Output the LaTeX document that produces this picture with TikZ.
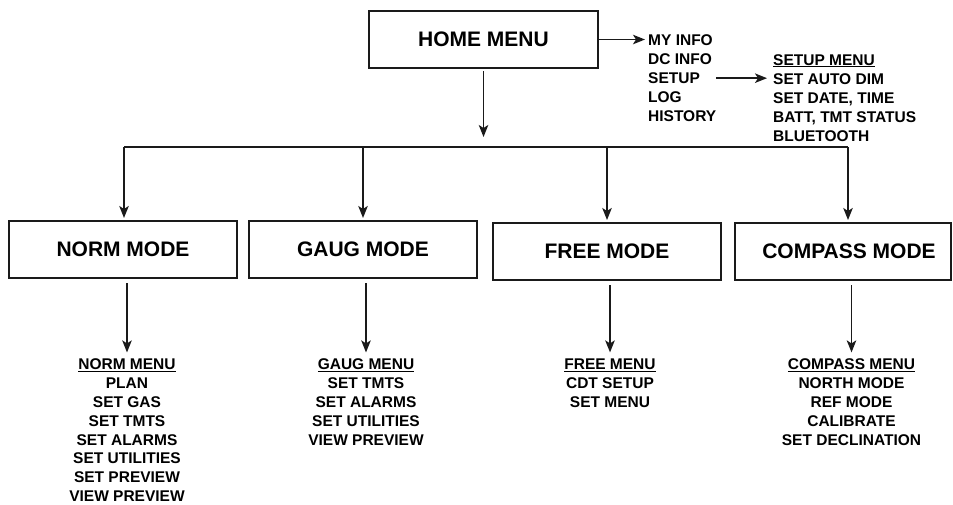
\documentclass[tikz,border=0pt]{standalone}
\usepackage{fontspec}
\setmainfont{Liberation Sans}
\usetikzlibrary{arrows.meta}
\definecolor{ink}{HTML}{1A1A1A}
\begin{document}
\begin{tikzpicture}[x=1pt,y=-1pt,
  modebox/.style={draw=ink, line width=2pt, minimum width=228pt, minimum height=57pt, inner sep=0pt, font=\fontsize{21}{25}\selectfont\bfseries},
  lbl/.style={inner sep=0pt, font=\fontsize{15.5}{18.9}\selectfont\bfseries},
  menu/.style={lbl, align=center, anchor=north},
  conn/.style={draw=ink, line width=1.5pt},
  arr/.style={conn, -{Stealth[length=12pt,width=9.5pt,inset=3pt]}}]
\useasboundingbox (0,0) rectangle (953,504);

% boxes
\node[modebox, minimum width=229pt] (home) at (483.5,39.5) {HOME MENU};
\node[modebox] (norm) at (123,249.5) {NORM MODE};
\node[modebox] (gaug) at (363,249.5) {GAUG MODE};
\node[modebox] (free) at (607,251.5) {FREE MODE};
\node[modebox, minimum width=216pt] (compass) at (843,251.5) {\hspace*{12pt}COMPASS MODE};

% home list
\node[lbl, anchor=base west] (myinfo)  at (648,45.7)  {MY INFO};
\node[lbl, anchor=base west] (dcinfo)  at (648,64.5)  {DC INFO};
\node[lbl, anchor=base west] (setup)   at (648,83.5)  {SETUP};
\node[lbl, anchor=base west] (log)     at (648,102.3) {LOG};
\node[lbl, anchor=base west] (history) at (648,121.1) {HISTORY};

% setup list
\node[lbl, anchor=base west] (setupmenu) at (773,65)  {\underline{SETUP MENU}};
\node[lbl, anchor=base west] (autodim)   at (773,84)  {SET AUTO DIM};
\node[lbl, anchor=base west] (datetime)  at (773,103) {SET DATE, TIME};
\node[lbl, anchor=base west] (batt)      at (773,122) {BATT, TMT STATUS};
\node[lbl, anchor=base west] (bluetooth) at (773,141) {BLUETOOTH};

% mode menus
\node[menu] (normmenu) at (127,358.4) {\underline{NORM MENU}\\PLAN\\SET GAS\\SET TMTS\\SET ALARMS\\SET UTILITIES\\SET PREVIEW\\VIEW PREVIEW};
\node[menu] (gaugmenu) at (366,358.4) {\underline{GAUG MENU}\\SET TMTS\\SET ALARMS\\SET UTILITIES\\VIEW PREVIEW};
\node[menu] (freemenu) at (610,358.4) {\underline{FREE MENU}\\CDT SETUP\\SET MENU};
\node[menu] (compassmenu) at (851.5,358.4) {\underline{COMPASS MENU}\\NORTH MODE\\REF MODE\\CALIBRATE\\SET DECLINATION};

% connectors
\coordinate (busL) at (124,147);
\coordinate (busR) at (848,147);
\draw[arr, shorten <=2pt, shorten >=10pt] (home.south) -- (home.south |- busL);
\draw[conn] (busL) -- (busR);
\draw[arr, shorten >=2pt] (busL) -- (busL |- norm.north);
\draw[arr, shorten >=2pt] (gaug.north |- busL) -- (gaug.north);
\draw[arr, shorten >=2pt] (free.north |- busL) -- (free.north);
\draw[arr, shorten >=2pt] (busR) -- (busR |- compass.north);

\draw[arr, shorten <=4pt, shorten >=6pt] (normmenu.north |- norm.south) -- (normmenu.north);
\draw[arr, shorten <=4pt, shorten >=6pt] (gaugmenu.north |- gaug.south) -- (gaugmenu.north);
\draw[arr, shorten <=4pt, shorten >=6pt] (freemenu.north |- free.south) -- (freemenu.north);
\draw[arr, shorten <=4pt, shorten >=6pt] (compassmenu.north |- compass.south) -- (compassmenu.north);

\draw[arr, shorten >=3pt] (home.east) -- (home.east -| myinfo.west);
\draw[arr, shorten <=16pt, shorten >=6pt] (setup.east) -- (setup.east -| autodim.west);
\end{tikzpicture}
\end{document}
